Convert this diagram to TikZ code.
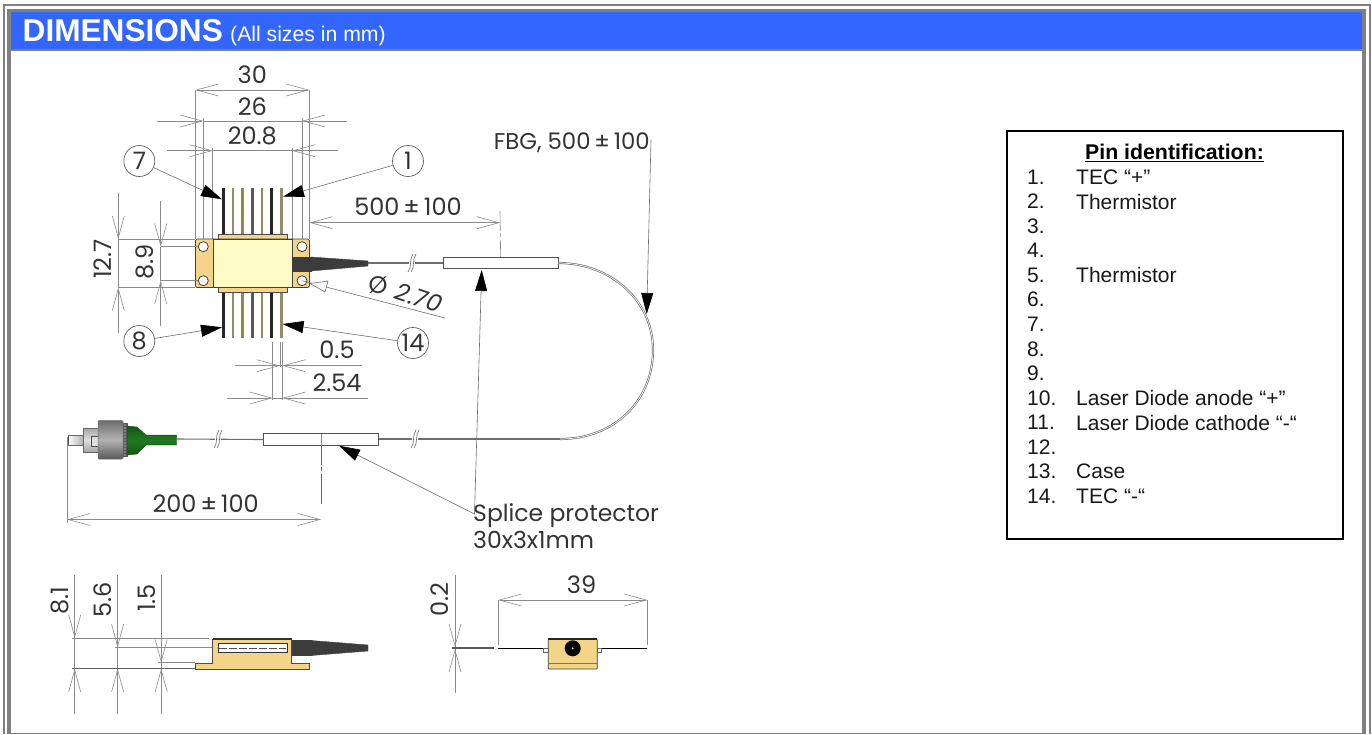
\documentclass[tikz,border=0pt]{standalone}
\usepackage{fontspec}
\setmainfont{Liberation Sans}
\newfontfamily\dimfont{Poppins}
\usetikzlibrary{arrows.meta}
\definecolor{framegray}{HTML}{808080}
\definecolor{headblue}{HTML}{3366FF}
\definecolor{gold}{HTML}{F4D488}
\definecolor{cream}{HTML}{FFFBC4}
\definecolor{dimgray}{HTML}{8A8A8A}
\definecolor{dimtext}{HTML}{333333}
\definecolor{darktube}{HTML}{3C3C3C}
\definecolor{fibregreen}{HTML}{1E7A1E}
\tikzset{
  x=1pt,y=-1pt,
  dimline/.style={draw=dimgray,line width=.6pt},
  dimtip/.style={dimline,-{Straight Barb[length=22pt,width=12pt,line width=.6pt]}},
  dimboth/.style={dimline,{Straight Barb[length=22pt,width=12pt,line width=.6pt]}-{Straight Barb[length=22pt,width=12pt,line width=.6pt]}},
  blacktip/.style={draw=dimgray!80!black,line width=.6pt,-{Triangle[length=21pt,width=12pt,color=black]}},
  dimlabel/.style={font=\dimfont\fontsize{24}{26}\selectfont,text=dimtext,inner sep=0pt},
  notelabel/.style={font=\dimfont\fontsize{23.5}{26}\selectfont,text=dimtext,inner sep=0pt},
  pinnum/.style={circle,draw=dimgray!70!black,line width=.7pt,minimum size=31pt,inner sep=0pt,font=\dimfont\fontsize{24}{26}\selectfont,text=dimtext},
  pinlist/.style={font=\fontsize{21}{24}\selectfont,anchor=west,inner sep=0pt,text=black!90},
  pinlead/.style={line width=2.6pt,draw=#1},
  brk/.style={draw=dimgray!70!black,line width=.6pt},
  fibre/.style={draw=dimgray!80!black,line width=1.1pt},
  spliceb/.style={draw=dimgray!60!black,line width=.8pt,fill=white},
}
\newcommand{\breakmark}[2]{%
  \fill[white] (#1-3,#2-4) rectangle (#1+3,#2+4);
  \draw[brk] (#1-4,#2+9) .. controls (#1,#2+5) and (#1-3,#2-4) .. (#1+1,#2-9);
  \draw[brk] (#1-1,#2+9) .. controls (#1+3,#2+5) and (#1,#2-4) .. (#1+4,#2-9);
}
\newcommand{\plusminus}{\,±\,}
\begin{document}
\begin{tikzpicture}
\useasboundingbox (0,0) rectangle (1372,734);
\fill[white] (0,0) rectangle (1372,734);
% frame
\fill[framegray] (3,4) rectangle (1370.5,6);
\fill[framegray] (3,4) rectangle (5,734);
\fill[framegray] (1368.5,4) rectangle (1370.5,734);
\fill[framegray] (7,9) rectangle (1366,12);
\fill[framegray] (7,9) rectangle (11,734);
\fill[framegray] (1362,9) rectangle (1366,734);
\fill[framegray] (7,733) rectangle (1366,734);
\fill[headblue] (11,12) rectangle (1362,49);
\fill[framegray] (11,49) rectangle (1362,50.5);
\node[anchor=base west,inner sep=0pt,text=white,font=\bfseries\fontsize{31.6}{33}\selectfont] (title) at (22.5,41) {DIMENSIONS};
\node[anchor=base west,inner sep=0pt,text=white,font=\fontsize{21.2}{23}\selectfont] (sub) at (230,41) {(All sizes in mm)};

% pin box
\node[draw=black,line width=1.5pt,minimum width=336pt,minimum height=408pt,anchor=north west,inner sep=0pt,fill=white] (pinbox) at (1006,130) {};
\node[inner sep=0pt,font=\bfseries\fontsize{21.3}{24}\selectfont] (pintitle) at (1174.5,153) {\underline{Pin identification:}};
\foreach \n/\t [count=\i from 0] in {1./TEC “+”,2./Thermistor,3./,4./,5./Thermistor,6./,7./,8./,9./,10./Laser Diode anode “+”,11./Laser Diode cathode “-“,12./,13./Case,14./TEC “-“}{
  \node[pinlist] (num\i) at (1027,177+\i*24.55) {\n};
  \node[pinlist] (txt\i) at (1076,177+\i*24.55) {\t};
}

% plan view: pins
\foreach \x/\c in {223.3/black!85,233/gray!75!olive,242.7/gray!55!olive,252.3/gray!70!black,262/gray!60!olive,271.7/black!85,281.7/gray!75!olive}{
  \draw[pinlead=\c] (\x,188) -- (\x,235);
  \draw[pinlead=\c] (\x,290) -- (\x,338);
}
\draw[fill=gold,draw=black!70,line width=.6pt] (218,234) rectangle (287,239.5);
\draw[fill=gold,draw=black!70,line width=.6pt] (218,287) rectangle (287,292);
% dim extension lines
\draw[dimline] (195.4,90) -- (195.4,239);
\draw[dimline] (309.4,90) -- (309.4,239);
\draw[dimline] (203.3,118) -- (203.3,242);
\draw[dimline] (302,118) -- (302,242);
\draw[dimline] (212.7,148) -- (212.7,239);
\draw[dimline] (292,148) -- (292,239);
% body
\draw[fill=gold,draw=black!75,line width=.7pt,rounded corners=1.5pt] (195.4,239) rectangle (309.4,287.5);
\draw[fill=cream,draw=black!75,line width=.7pt] (213,239) rectangle (292,287.5);
\foreach \x/\y in {203.3/246.7,203.3/280.7,302/246.7,302/280.7}{
  \draw[fill=white,draw=black!75,line width=.8pt] (\x,\y) circle (5);
}
% tube and cone
\draw[fill=darktube,draw=darktube] (292,257) rectangle (311,271);
\draw[fill=darktube,draw=darktube] (311,257) -- (368,261) -- (368,266) -- (311,271) -- cycle;
% fibre
\draw[fibre] (368,263) -- (443,263);
\breakmark{412}{263}
\node[spliceb,minimum width=114.5pt,minimum height=11.5pt,inner sep=0pt,anchor=west] (fbgbox) at (443,263) {};
\draw[draw=dimgray!80!black,line width=.7pt,double=white,double distance=.7pt] (fbgbox.east) .. controls (610,263) and (653,300) .. (653,350) .. controls (653,400) and (615,439) .. (560,439);
\draw[fibre] (560,439) -- (378,439);
\breakmark{415}{439}
\node[spliceb,minimum width=115pt,minimum height=11.5pt,inner sep=0pt,anchor=west] (spbox) at (263.3,439.5) {};
\draw[fibre] (spbox.west) -- (177,439);
\breakmark{218}{439}
% connector
\draw[left color=white,right color=gray!60,draw=black!60,line width=.5pt] (68,435.5) rectangle (83,445);
\fill[black!70] (67.5,436) rectangle (69,443);
\draw[top color=gray!70,bottom color=gray!70,middle color=gray!25,draw=black!60,line width=.5pt] (83,428) rectangle (98,452);
\draw[fill=gray!25,draw=black!70,line width=.5pt] (91,436) rectangle (98,446);
\draw[fill=black!65,draw=black!65] (123,423) rectangle (127,456);
\foreach \i in {0,...,10}{\fill[white] (125,425+\i*3) circle (.7);}
\draw[top color=fibregreen!70!black,bottom color=fibregreen!70!black,middle color=fibregreen,draw=fibregreen!60!black,line width=.4pt]
  (127,426) -- (137,427) -- (146,435) -- (176.7,435) -- (176.7,445) -- (146,445) -- (137,454) -- (127,455) -- cycle;
\draw[top color=gray!85!black,bottom color=gray!70!black,middle color=gray!60,draw=black!60,line width=.5pt,rounded corners=1pt] (98,420.5) rectangle (123,459);

% dimensions plan
\draw[dimboth] (195.4,90) -- (309.4,90);
\node[dimlabel] (d30) at (252.3,75) {30};
\draw[dimline] (203.3,121) -- (302,121);
\draw[dimtip] (157,121) -- (203.3,121);
\draw[dimtip] (347,121) -- (302,121);
\node[dimlabel] (d26) at (252.3,106.5) {26};
\draw[dimline] (212.7,150.7) -- (292,150.7);
\draw[dimtip] (167,150.7) -- (212.7,150.7);
\draw[dimtip] (338,150.7) -- (292,150.7);
\node[dimlabel] (d208) at (252.3,135.5) {20.8};
% 12.7
\draw[dimline] (118.3,239) -- (195.4,239);
\draw[dimline] (118.3,287.5) -- (195.4,287.5);
\draw[dimline] (118.3,239) -- (118.3,287.5);
\draw[dimtip] (118.3,193) -- (118.3,239);
\draw[dimtip] (118.3,333) -- (118.3,287.5);
\node[dimlabel,rotate=90] (d127) at (103,259) {12.7};
% 8.9
\draw[dimline] (160.7,246.7) -- (198,246.7);
\draw[dimline] (160.7,280.7) -- (198,280.7);
\draw[dimline] (160.7,246.7) -- (160.7,280.7);
\draw[dimtip] (160.7,201) -- (160.7,246.7);
\draw[dimtip] (160.7,326) -- (160.7,280.7);
\node[dimlabel,rotate=90] (d89) at (145,262) {8.9};
% 0.5, 2.54
\draw[dimline] (272.7,342) -- (272.7,400);
\draw[dimline] (280,342) -- (280,367);
\draw[dimline] (282.3,342) -- (282.3,400);
\draw[dimline] (272.7,365.7) -- (282,365.7);
\draw[dimtip] (235,365.7) -- (280,365.7);
\draw[dimtip] (361.7,365.7) -- (282.3,365.7);
\node[dimlabel] (d05) at (337,350) {0.5};
\draw[dimline] (272.7,398) -- (282.3,398);
\draw[dimtip] (226.7,398) -- (272.7,398);
\draw[dimtip] (368,398) -- (282.3,398);
\node[dimlabel] (d254) at (337,382.5) {2.54};
% 500+-100
\draw[dimline] (309.4,215) -- (309.4,239);
\draw[dimboth] (309.4,222.7) -- (500,222.7);
\draw[dimline,dash pattern=on 20pt off 2pt on 4pt off 3pt on 30pt] (500,211) -- (fbgbox.north);
\node[dimlabel] (d500) at (408,207) {500\plusminus 100};
% diameter
\coordinate (dialeft) at (302,280.7);
\coordinate (diaend) at (445,318);
\draw[dimline,draw=dimgray!80!black] (diaend) -- (dialeft);
\draw[draw=dimgray!80!black,line width=.6pt,fill=white] (310,283.5) -- (328,281) -- (325,292) -- cycle;
\node[dimlabel] (ddiasym) at (378,285) {Ø};
\node[dimlabel,rotate=-19] (ddia) at (419,298) {\itshape 2.70};
% pin number circles
\node[pinnum] (n7) at (139.3,161) {7};
\node[pinnum] (n1) at (408,161) {1};
\node[pinnum] (n8) at (139.3,341) {8};
\node[pinnum] (n14) at (413,343) {14};
\coordinate (t7) at (222,199.3);
\coordinate (t1) at (283,196.7);
\coordinate (t8) at (222,327.3);
\coordinate (t14) at (282.5,324);
\draw[blacktip] (n7) -- (t7);
\draw[blacktip] (n1) -- (t1);
\draw[blacktip] (n8) -- (t8);
\draw[blacktip] (n14) -- (t14);
% FBG leader
\node[notelabel,anchor=east,font=\dimfont\fontsize{22.8}{25}\selectfont] (fbg) at (650,143) {FBG, 500\plusminus 100};
\coordinate (fbgtop) at (651,140);
\coordinate (fbgtip) at (646.7,314);
\draw[blacktip] (fbgtop) -- (fbgtip);
% splice protector
\node[notelabel,anchor=west] (sp1) at (473,516) {Splice protector};
\node[notelabel,anchor=west] (sp2) at (473,540) {30x3x1mm};
\coordinate (spjoin) at (474.5,514);
\coordinate (sptip1) at (481.7,270);
\coordinate (sptip2) at (339,445.7);
\draw[blacktip] (spjoin) -- (sptip1);
\draw[blacktip] (spjoin) -- (sptip2);
% 200+-100
\draw[dimline] (67,437) -- (67,523);
\draw[dimline] (321,434) -- (321,445);
\draw[dimline,dash pattern=on 20pt off 2pt on 4pt off 3pt on 30pt,draw=dimgray!70!black] (321,445) -- (321,523);
\draw[dimboth] (67,519.5) -- (321,519.5);
\node[dimlabel] (d200) at (205.7,504) {200\plusminus 100};

% side view
\foreach \x in {74.7,117.6,161.2}{\draw[dimline] (\x,575) -- (\x,714);}
\draw[dimline] (72,638) -- (208.6,638);
\draw[dimline] (115,647.3) -- (213,647.3);
\draw[dimline] (158,662.7) -- (195,662.7);
\draw[dimline,draw=dimgray!70!black] (72,668.7) -- (195,668.7);
\draw[dimtip] (74.7,615) -- (74.7,638);
\draw[dimtip] (74.7,691.7) -- (74.7,668.7);
\draw[dimtip] (117.6,624) -- (117.6,647.3);
\draw[dimtip] (117.6,691.7) -- (117.6,668.7);
\draw[dimtip] (161.2,640) -- (161.2,662.7);
\draw[dimtip] (161.2,691.7) -- (161.2,668.7);
\node[dimlabel,rotate=90] (d81) at (59.6,601) {8.1};
\node[dimlabel,rotate=90] (d56) at (103,600) {5.6};
\node[dimlabel,rotate=90] (d15) at (147,598) {1.5};
\draw[fill=gold,draw=black!70,line width=.6pt] (195,663.5) rectangle (309,669);
\fill[gold] (212.7,639) rectangle (291.7,664);
\draw[black!70,line width=.6pt] (212.7,664) -- (212.7,639);
\draw[black!70,line width=.6pt] (291.7,664) -- (291.7,639);
\draw[black!80,line width=1.2pt] (212.7,639) -- (291.7,639);
\draw[fill=white,draw=black!80,line width=.8pt] (218,643) rectangle (287,652);
\draw[black!70,line width=.8pt,dash pattern=on 8pt off 2pt] (219,648) -- (286,648);
\draw[fill=darktube,draw=darktube] (292,640.5) rectangle (311,655.5);
\draw[fill=darktube,draw=darktube] (311,640.5) -- (368,645) -- (368,651) -- (311,655.5) -- cycle;

% front view
\draw[dimline] (455,575) -- (455,693);
\draw[dimtip] (455,618) -- (455,647);
\draw[dimtip] (455,672) -- (455,649);
\draw[draw=black!65,line width=1.3pt] (452,648) -- (494,648);
\node[dimlabel,rotate=90] (d02) at (440,600) {0.2};
\draw[dimline] (498.3,600) -- (498.3,645);
\draw[dimline] (647.3,600) -- (647.3,645);
\draw[dimboth] (498.3,600) -- (647.3,600);
\node[dimlabel] (d39) at (581.6,585) {39};
\draw[black,line width=1pt] (498.3,648) -- (544,648);
\draw[black,line width=1pt] (601,648) -- (647.3,648);
\draw[fill=white,draw=black!60,line width=.5pt] (543.5,648) rectangle (548.3,652);
\draw[fill=white,draw=black!60,line width=.5pt] (597.3,648) rectangle (601.5,652);
\draw[fill=gold,draw=black!75,line width=.7pt,rounded corners=.8pt] (548.3,639) rectangle (597.3,669);
\draw[black!85,line width=1.3pt] (548.3,639) -- (597.3,639);
\draw[black!45!gold,line width=.8pt] (548.3,663) -- (597.3,663);
\fill[black] (572.7,648.3) circle (8);
\fill[white] (572.7,648.3) circle (1);
\end{tikzpicture}
\end{document}
